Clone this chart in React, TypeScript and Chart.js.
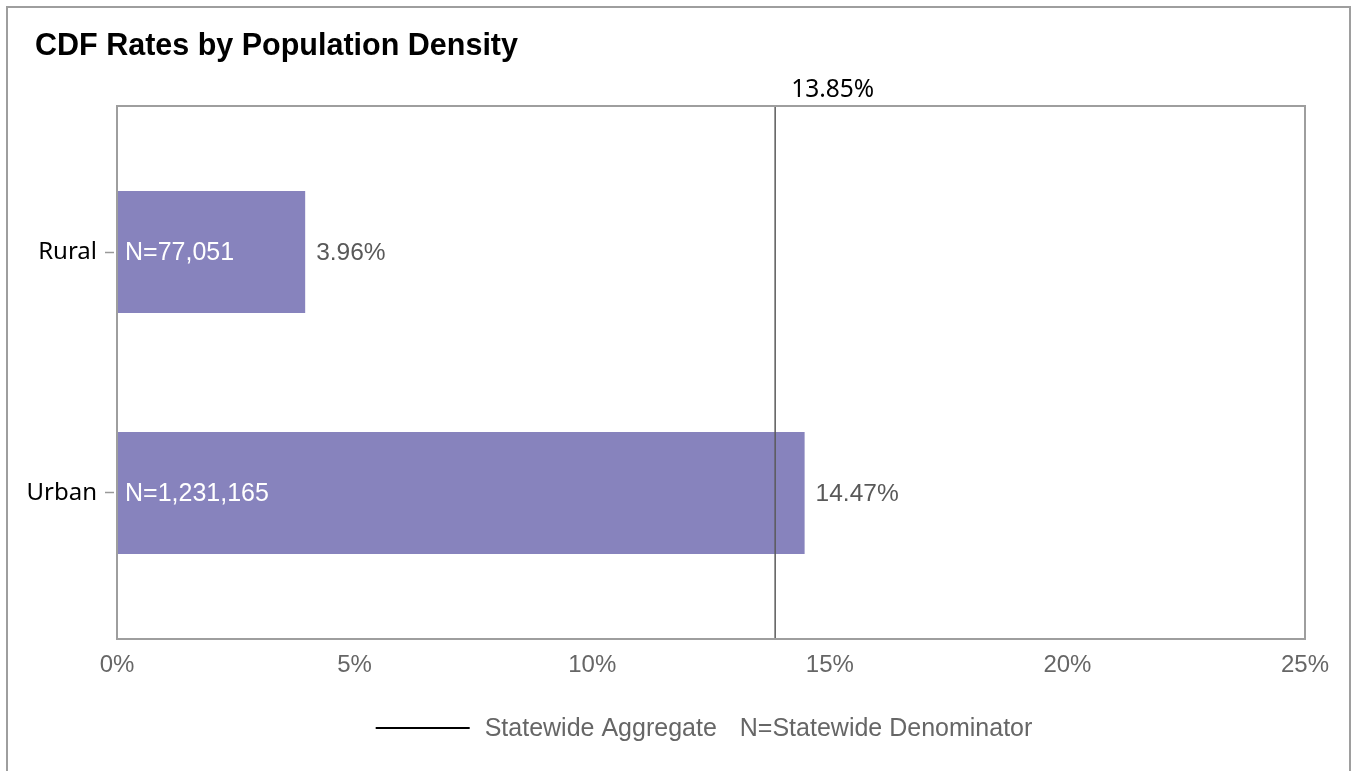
import React, { useEffect, useRef } from 'react';
import { Chart, registerables } from 'chart.js';

Chart.register(...registerables);

const categories = ['Rural', 'Urban'];
const rates = [3.96, 14.47];
const denominators = [77051, 1231165];
const statewideRate = 13.85;
const xTickValues = [0, 5, 10, 15, 20, 25];
const legendLabels = ['Statewide Aggregate', 'N=Statewide Denominator'];
const titleText = 'CDF Rates by Population Density';

const ARIAL = '"Liberation Sans", Arial, sans-serif';
const NOTO = '"Noto Sans", "Open Sans", sans-serif';

export default function App() {
  const ref = useRef<HTMLCanvasElement>(null);

  useEffect(() => {
    const canvas = ref.current;
    if (!canvas) return;

    const overlay = {
      id: 'overlay',
      afterDatasetsDraw(chart: any) {
        const { ctx, chartArea: a, scales } = chart;
        const meta = chart.getDatasetMeta(0);
        ctx.save();

        // title
        ctx.fillStyle = '#000000';
        ctx.font = `bold 30.5px ${ARIAL}`;
        ctx.textBaseline = 'middle';
        ctx.textAlign = 'left';
        ctx.fillText(titleText, 27, 38.5);

        // value labels
        ctx.textBaseline = 'middle';
        meta.data.forEach((bar: any, i: number) => {
          ctx.font = `25px ${ARIAL}`;
          ctx.fillStyle = '#ffffff';
          ctx.fillText('N=' + denominators[i].toLocaleString('en-US'), a.left + 8, bar.y + 1);
          ctx.font = `24.5px ${ARIAL}`;
          ctx.fillStyle = '#595959';
          ctx.fillText(rates[i].toFixed(2) + '%', bar.x + 11, bar.y + 1);
        });

        // statewide reference line
        const sx = scales.x.getPixelForValue(statewideRate);
        ctx.strokeStyle = '#5a5a5a';
        ctx.lineWidth = 1.5;
        ctx.beginPath();
        ctx.moveTo(sx, a.top);
        ctx.lineTo(sx, a.bottom);
        ctx.stroke();

        // frame
        ctx.strokeStyle = '#9e9e9e';
        ctx.lineWidth = 2;
        ctx.strokeRect(a.left, a.top, a.right - a.left, a.bottom - a.top);

        // reference label
        ctx.fillStyle = '#000000';
        ctx.font = `24.5px ${NOTO}`;
        ctx.textBaseline = 'alphabetic';
        ctx.fillText(statewideRate.toFixed(2) + '%', sx + 16, a.top - 9);

        // legend
        ctx.font = `25px ${ARIAL}`;
        const w1 = ctx.measureText(legendLabels[0]).width;
        const w2 = ctx.measureText(legendLabels[1]).width;
        const lineLen = 94;
        const gap1 = 15;
        const gap2 = 23;
        const total = lineLen + gap1 + w1 + gap2 + w2;
        const x0 = (a.left + a.right) / 2 - 7 - total / 2;
        const ly = a.bottom + 89;
        ctx.strokeStyle = '#000000';
        ctx.lineWidth = 2;
        ctx.beginPath();
        ctx.moveTo(x0, ly);
        ctx.lineTo(x0 + lineLen, ly);
        ctx.stroke();
        ctx.fillStyle = '#666666';
        ctx.textBaseline = 'middle';
        ctx.fillText(legendLabels[0], x0 + lineLen + gap1, ly + 1);
        ctx.fillText(legendLabels[1], x0 + lineLen + gap1 + w1 + gap2, ly + 1);

        ctx.restore();
      },
    };

    const chart = new Chart(canvas, {
      type: 'bar',
      data: {
        datasets: [
          {
            data: rates.map((v, i) => ({ x: v, y: i })),
            backgroundColor: '#8783bd',
            borderWidth: 0,
            categoryPercentage: 1,
            barPercentage: 0.506,
          } as any,
        ],
      },
      options: {
        indexAxis: 'y',
        animation: false,
        responsive: false,
        layout: { padding: { left: 0, right: 44, top: 98, bottom: 92 } },
        plugins: {
          legend: { display: false },
          tooltip: { enabled: false },
          title: { display: false },
        },
        scales: {
          x: {
            type: 'linear',
            min: 0,
            max: 25,
            offset: false,
            afterBuildTicks: (s: any) => {
              s.ticks = xTickValues.map((v) => ({ value: v }));
            },
            afterFit: (s: any) => {
              s.height = 40;
            },
            ticks: {
              callback: (v: any) => v + '%',
              color: '#666666',
              font: { family: ARIAL, size: 24 },
              padding: 12,
              maxRotation: 0,
            },
            grid: { display: false, drawTicks: false },
            border: { display: false },
          },
          y: {
            type: 'linear',
            reverse: true,
            offset: false,
            min: -0.606,
            max: 1.606,
            afterBuildTicks: (s: any) => {
              s.ticks = categories.map((_, i) => ({ value: i }));
            },
            afterFit: (s: any) => {
              s.width = 109;
            },
            ticks: {
              callback: (v: any) => categories[v] ?? '',
              color: '#000000',
              font: { family: NOTO, size: 24 },
              padding: 8,
            },
            grid: {
              display: true,
              offset: false,
              drawOnChartArea: false,
              drawTicks: true,
              tickLength: 12,
              tickColor: '#999999',
              tickWidth: 1.5,
              tickBorderDash: [9, 20],
            },
            border: { display: false },
          },
        },
      } as any,
      plugins: [overlay],
    });

    return () => chart.destroy();
  }, []);

  return (
    <div
      style={{
        position: 'absolute',
        left: 6,
        top: 6,
        width: 1345,
        height: 765,
        boxSizing: 'border-box',
        borderTop: '2px solid #9e9e9e',
        borderLeft: '2px solid #9e9e9e',
        borderRight: '2px solid #9e9e9e',
        background: '#ffffff',
      }}
    >
      <canvas ref={ref} width={1341} height={763} style={{ display: 'block', width: 1341, height: 763 }} />
    </div>
  );
}
